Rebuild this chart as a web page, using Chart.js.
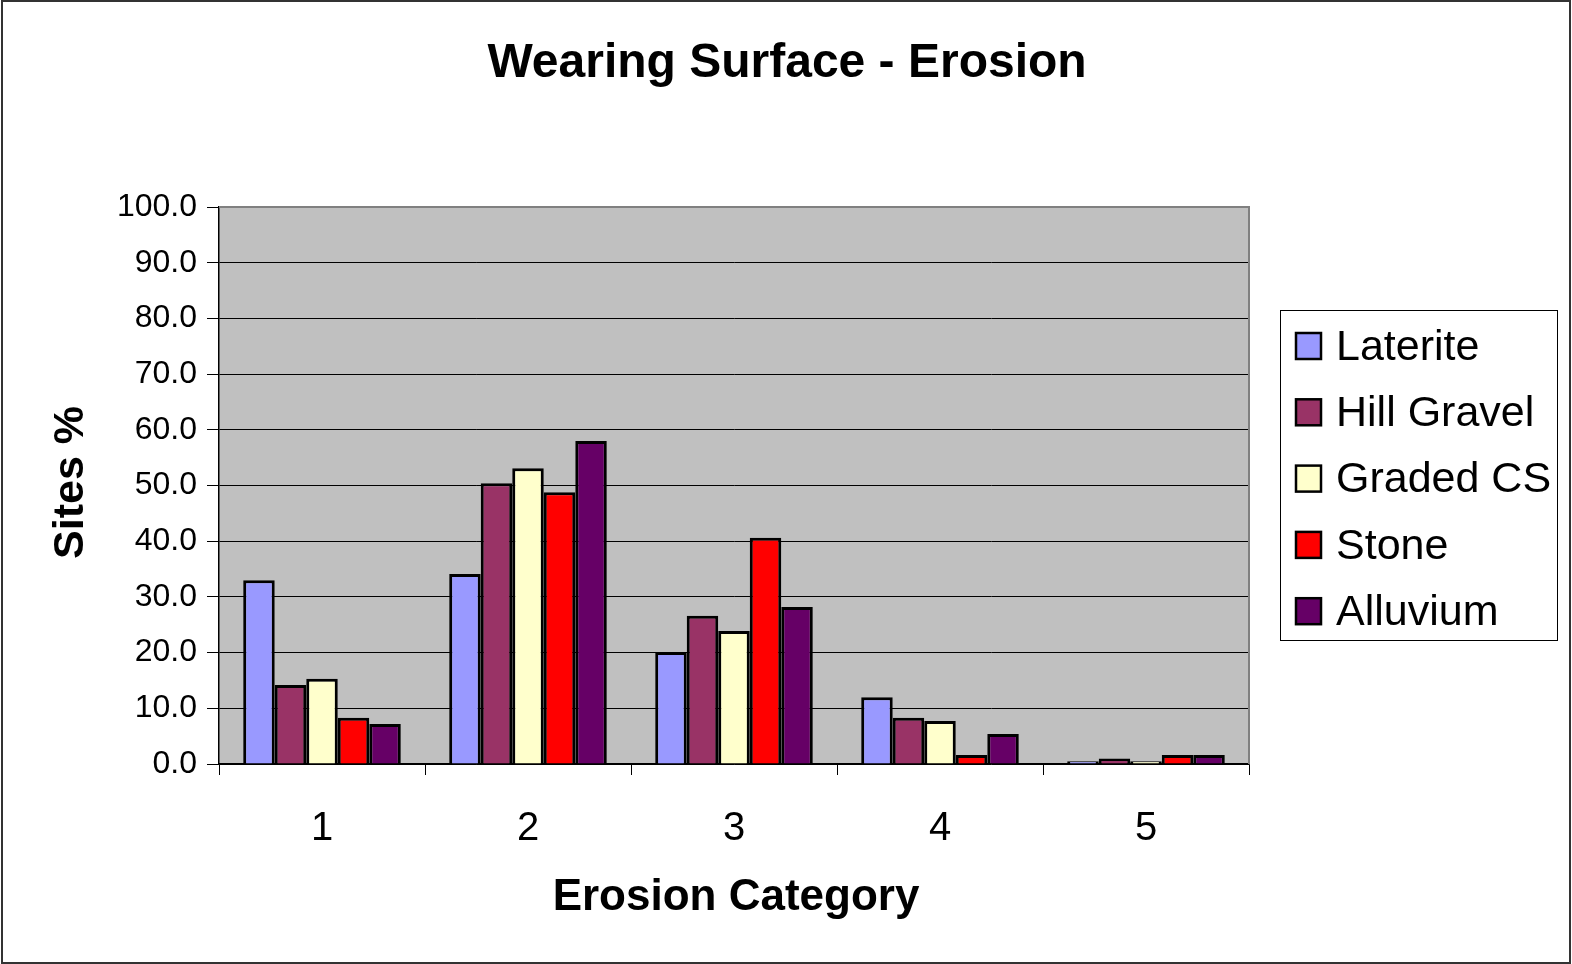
<!DOCTYPE html>
<html>
<head>
<meta charset="utf-8">
<script src="https://cdn.jsdelivr.net/npm/chart.js@4/dist/chart.umd.min.js"></script>
<style>
html,body{margin:0;padding:0;background:#fff;}
#wrap{width:1572px;height:964px;position:relative;}
</style>
</head>
<body>
<div id="wrap"><canvas id="c" width="1572" height="964"></canvas></div>
<script>
const categories = ["1", "2", "3", "4", "5"];
const laterite   = [33.0, 34.1, 20.1, 12.0, 0.5];
const hillGravel = [14.2, 50.4, 26.6, 8.3, 1.0];
const gradedCS   = [15.3, 53.1, 23.9, 7.7, 0.5];
const stone      = [8.3, 48.8, 40.6, 1.6, 1.6];
const alluvium   = [7.2, 58.0, 28.2, 5.4, 1.6];
const seriesNames = ["Laterite", "Hill Gravel", "Graded CS", "Stone", "Alluvium"];
const seriesColors = ["#9999FF", "#993366", "#FFFFCC", "#FF0000", "#660066"];
const chartTitle = "Wearing Surface - Erosion";
const xTitle = "Erosion Category";
const yTitle = "Sites %";

const FONT = "'Liberation Sans', Arial, sans-serif";
const seriesValues = [laterite, hillGravel, gradedCS, stone, alluvium];

const decor = {
  id: 'decor',
  beforeDraw(chart) {
    const ctx = chart.ctx;
    const a = chart.chartArea;
    ctx.save();
    ctx.fillStyle = '#fff';
    ctx.fillRect(0, 0, chart.width, chart.height);
    ctx.strokeStyle = '#333';
    ctx.lineWidth = 2;
    ctx.strokeRect(2, 1, chart.width - 4, chart.height - 2);
    ctx.fillStyle = '#C0C0C0';
    ctx.fillRect(a.left, a.top, a.right - a.left, a.bottom - a.top);
    ctx.restore();
  },
  afterDraw(chart) {
    const ctx = chart.ctx;
    const a = chart.chartArea;
    ctx.save();
    ctx.strokeStyle = '#808080';
    ctx.lineWidth = 2;
    ctx.beginPath();
    ctx.moveTo(a.left, a.top);
    ctx.lineTo(a.right, a.top);
    ctx.lineTo(a.right, a.bottom);
    ctx.stroke();
    ctx.fillStyle = '#000';
    ctx.font = 'bold 48px ' + FONT;
    ctx.textAlign = 'center';
    ctx.textBaseline = 'middle';
    ctx.fillText(chartTitle, 787, 64);
    ctx.font = 'bold 44px ' + FONT;
    ctx.fillText(xTitle, (a.left + a.right) / 2 + 2, 898);
    ctx.save();
    ctx.translate(71, (a.top + a.bottom) / 2 - 3);
    ctx.rotate(-Math.PI / 2);
    ctx.font = 'bold 43px ' + FONT;
    ctx.fillText(yTitle, 0, 0);
    ctx.restore();
    // legend
    ctx.strokeStyle = '#000';
    ctx.lineWidth = 1;
    ctx.strokeRect(1280.5, 310.5, 277, 330);
    ctx.font = '43px ' + FONT;
    ctx.textAlign = 'left';
    chart.data.datasets.forEach((ds, i) => {
      const cy = 347 + i * 66.3;
      ctx.fillStyle = ds.backgroundColor;
      ctx.fillRect(1296, cy - 14, 25, 26);
      ctx.lineWidth = 2.5;
      ctx.strokeStyle = '#000';
      ctx.strokeRect(1296, cy - 14, 25, 26);
      ctx.fillStyle = '#000';
      ctx.fillText(ds.label, 1336, cy + 1);
    });
    ctx.restore();
  }
};

new Chart(document.getElementById('c'), {
  type: 'bar',
  data: {
    labels: categories,
    datasets: seriesNames.map((n, i) => ({
      label: n,
      data: seriesValues[i],
      backgroundColor: seriesColors[i],
      borderColor: '#000',
      borderWidth: 3,
      borderSkipped: 'bottom',
      categoryPercentage: 0.765,
      barPercentage: 1.0
    }))
  },
  options: {
    responsive: false,
    animation: false,
    devicePixelRatio: 1,
    layout: { padding: { top: 207, left: 0, right: 323, bottom: 0 } },
    plugins: { legend: { display: false }, title: { display: false }, tooltip: { enabled: false } },
    scales: {
      x: {
        afterFit(s) { s.height = 200; },
        grid: { offset: true, drawOnChartArea: false, color: '#000', tickLength: 11, lineWidth: 1 },
        border: { color: '#000', width: 1.5 },
        ticks: { color: '#000', font: { family: FONT, size: 40 }, padding: 30 }
      },
      y: {
        min: 0, max: 100,
        afterFit(s) { s.width = 219; },
        grid: { color: '#000', tickLength: 12, lineWidth: 1 },
        border: { color: '#000', width: 1.5 },
        ticks: { stepSize: 10, color: '#000', font: { family: FONT, size: 32 }, padding: 10,
                 callback: v => Number(v).toFixed(1) }
      }
    }
  },
  plugins: [decor]
});
</script>
</body>
</html>
